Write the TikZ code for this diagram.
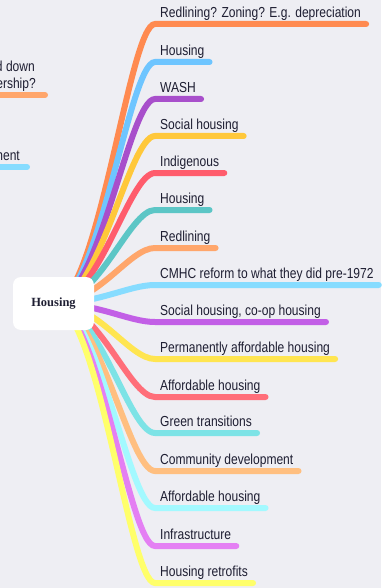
\documentclass[tikz,border=0pt]{standalone}
\usepackage{fontspec}
\setmainfont{Liberation Sans}[FakeStretch=0.83]
\newfontfamily\hubfont{Liberation Serif}
\usetikzlibrary{backgrounds}

\definecolor{paper}{HTML}{EEEEF3}
\definecolor{ink}{HTML}{1E1E32}
\definecolor{br1}{HTML}{FF8A50}
\definecolor{br2}{HTML}{6EC5FF}
\definecolor{br3}{HTML}{A84FCB}
\definecolor{br4}{HTML}{FFC83A}
\definecolor{br5}{HTML}{FF5C6C}
\definecolor{br6}{HTML}{5CC6C6}
\definecolor{br7}{HTML}{FFA66B}
\definecolor{br8}{HTML}{86DCFF}
\definecolor{br9}{HTML}{C25FE6}
\definecolor{br10}{HTML}{FFE550}
\definecolor{br11}{HTML}{FF6E79}
\definecolor{br12}{HTML}{7DE3E6}
\definecolor{br13}{HTML}{FFBF80}
\definecolor{br14}{HTML}{A3F9FF}
\definecolor{br15}{HTML}{E47FF3}
\definecolor{br16}{HTML}{FFFF6A}

\begin{document}
\begin{tikzpicture}[x=1pt, y=-1pt,
  branch/.style={line width=6pt, line cap=round},
  leaf/.style={anchor=south west, inner xsep=5pt, inner ysep=0pt,
    text height=11pt, text depth=6.5pt, text=ink,
    font=\fontsize{14.5}{16}\selectfont},
  hubbox/.style={fill=white, rounded corners=8pt, minimum width=81pt,
    minimum height=53pt, text=ink,
    font=\hubfont\bfseries\fontsize{12.5}{14}\selectfont}]
\useasboundingbox (0,0) rectangle (381,588);
\begin{scope}[on background layer]
\fill[paper] (0,0) rectangle (381,588);
\end{scope}

% Central topic
\node[hubbox] (hub) at (53.5,303.5) {Housing};

% Leaves on the right
\node[leaf] (redline) at (155,24) {Redlining? Zoning? E.g. depreciation};
\node[leaf] (house1) at (155,62) {Housing};
\node[leaf] (wash) at (155,99) {WASH};
\node[leaf] (social1) at (155,136) {Social housing};
\node[leaf] (indig) at (155,173) {Indigenous};
\node[leaf] (house2) at (155,210) {Housing};
\node[leaf] (redline2) at (155,248) {Redlining};
\node[leaf] (cmhc) at (155,285) {CMHC reform to what they did pre-1972};
\node[leaf] (coop) at (155,322) {Social housing, co-op housing};
\node[leaf] (perm) at (155,359) {Permanently affordable housing};
\node[leaf] (afford1) at (155,397) {Affordable housing};
\node[leaf] (green) at (155,433) {Green transitions};
\node[leaf] (commdev) at (155,471) {Community development};
\node[leaf] (afford2) at (155,508) {Affordable housing};
\node[leaf] (infra) at (155,546) {Infrastructure};
\node[leaf] (retro) at (155,583) {Housing retrofits};

% Cut-off leaves on the left
\node[leaf, anchor=south east] (frag1) at (40,78.5) {d down};
\node[leaf, anchor=south east] (frag2) at (41,95) {ership?};
\node[leaf, anchor=south east] (frag3) at (25,167) {nent};
\coordinate (edge1) at (-10,95);
\coordinate (edge2) at (-10,167);

% Branches, under the central topic
\begin{scope}[on background layer]
\draw[branch, br1] (hub.center) .. controls +(45,0) and +(-26,0) .. (redline.south west) -- (redline.south east);
\draw[branch, br2] (hub.center) .. controls +(45,0) and +(-26,0) .. (house1.south west) -- (house1.south east);
\draw[branch, br3] (hub.center) .. controls +(45,0) and +(-26,0) .. (wash.south west) -- (wash.south east);
\draw[branch, br4] (hub.center) .. controls +(45,0) and +(-26,0) .. (social1.south west) -- (social1.south east);
\draw[branch, br5] (hub.center) .. controls +(45,0) and +(-26,0) .. (indig.south west) -- (indig.south east);
\draw[branch, br6] (hub.center) .. controls +(45,0) and +(-26,0) .. (house2.south west) -- (house2.south east);
\draw[branch, br7] (hub.center) .. controls +(45,0) and +(-26,0) .. (redline2.south west) -- (redline2.south east);
\draw[branch, br8] (hub.center) .. controls +(45,0) and +(-26,0) .. (cmhc.south west) -- (cmhc.south east);
\draw[branch, br9] (hub.center) .. controls +(45,0) and +(-26,0) .. (coop.south west) -- (coop.south east);
\draw[branch, br10] (hub.center) .. controls +(45,0) and +(-26,0) .. (perm.south west) -- (perm.south east);
\draw[branch, br11] (hub.center) .. controls +(45,0) and +(-26,0) .. (afford1.south west) -- (afford1.south east);
\draw[branch, br12] (hub.center) .. controls +(45,0) and +(-26,0) .. (green.south west) -- (green.south east);
\draw[branch, br13] (hub.center) .. controls +(45,0) and +(-26,0) .. (commdev.south west) -- (commdev.south east);
\draw[branch, br14] (hub.center) .. controls +(45,0) and +(-26,0) .. (afford2.south west) -- (afford2.south east);
\draw[branch, br15] (hub.center) .. controls +(45,0) and +(-26,0) .. (infra.south west) -- (infra.south east);
\draw[branch, br16] (hub.center) .. controls +(45,0) and +(-26,0) .. (retro.south west) -- (retro.south east);
% underlines of the cut-off leaves
\draw[branch, br7] (edge1) -- ([xshift=4pt]frag2.south east);
\draw[branch, br8] (edge2) -- ([xshift=2pt]frag3.south east);
\end{scope}
\end{tikzpicture}
\end{document}
